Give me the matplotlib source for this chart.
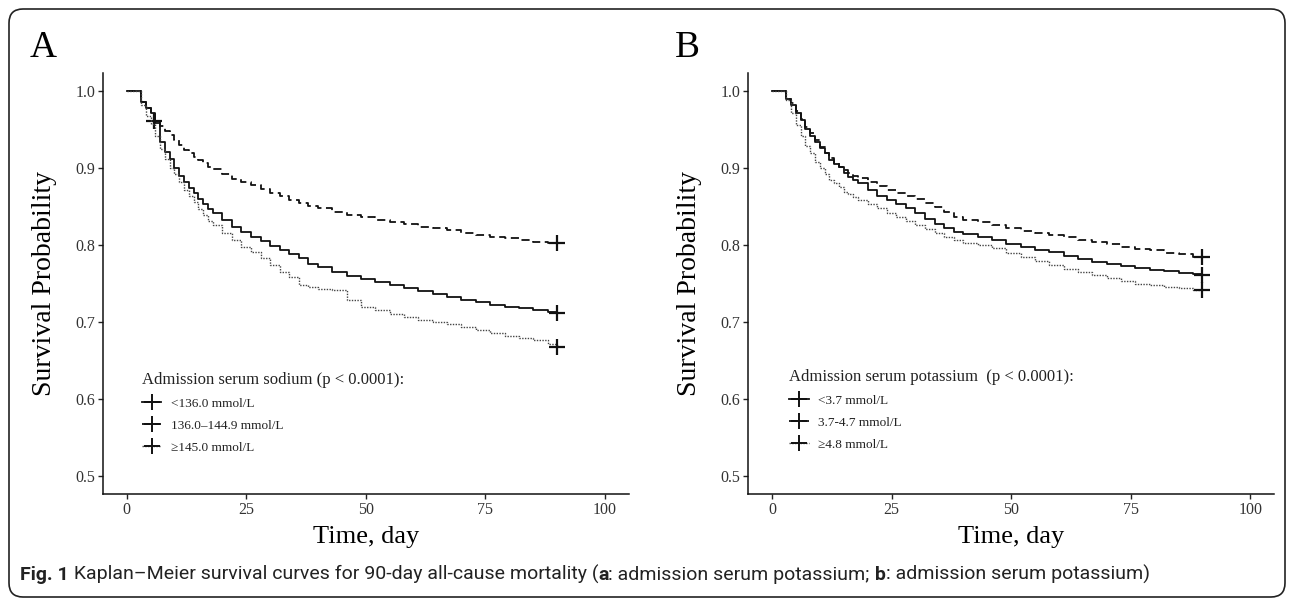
import matplotlib
matplotlib.use("Agg")
import matplotlib.pyplot as plt
from matplotlib.lines import Line2D
from matplotlib.patches import FancyBboxPatch
from matplotlib.transforms import IdentityTransform
from matplotlib.font_manager import FontProperties

# ---------------- data ----------------
days = [0, 3, 4, 5, 6, 7, 8, 9, 10, 11, 12, 13, 14, 15, 16, 17, 18, 20, 22, 24,
        26, 28, 30, 32, 34, 36, 38, 40, 43, 46, 49, 52, 55, 58, 61, 64, 67, 70,
        73, 76, 79, 82, 85, 88, 90]

# Panel A: admission serum sodium
na_low = [1.0, 0.986, 0.978, 0.971, 0.958, 0.934, 0.921, 0.912, 0.900, 0.890,
          0.882, 0.874, 0.867, 0.860, 0.853, 0.847, 0.841, 0.832, 0.824, 0.817,
          0.811, 0.805, 0.799, 0.794, 0.788, 0.783, 0.775, 0.771, 0.765, 0.760,
          0.756, 0.752, 0.748, 0.744, 0.740, 0.736, 0.732, 0.729, 0.726, 0.722,
          0.720, 0.718, 0.715, 0.713, 0.712]
na_mid = [1.0, 0.986, 0.978, 0.970, 0.960, 0.955, 0.948, 0.943, 0.937, 0.930,
          0.924, 0.920, 0.915, 0.910, 0.906, 0.902, 0.899, 0.892, 0.886, 0.882,
          0.878, 0.873, 0.868, 0.864, 0.859, 0.855, 0.851, 0.848, 0.843, 0.839,
          0.836, 0.833, 0.830, 0.827, 0.824, 0.822, 0.819, 0.816, 0.813, 0.811,
          0.809, 0.807, 0.804, 0.803, 0.802]
na_high = [1.0, 0.982, 0.968, 0.957, 0.942, 0.925, 0.912, 0.900, 0.892, 0.882,
           0.871, 0.864, 0.856, 0.847, 0.839, 0.831, 0.826, 0.815, 0.806, 0.798,
           0.791, 0.783, 0.774, 0.765, 0.759, 0.748, 0.745, 0.743, 0.741, 0.728,
           0.720, 0.716, 0.710, 0.706, 0.703, 0.700, 0.697, 0.694, 0.690, 0.686,
           0.682, 0.679, 0.676, 0.672, 0.668]

# Panel B: admission serum potassium
k_low = [1.0, 0.990, 0.982, 0.972, 0.962, 0.951, 0.942, 0.934, 0.926, 0.919,
         0.911, 0.905, 0.901, 0.894, 0.889, 0.885, 0.881, 0.872, 0.864, 0.858,
         0.853, 0.848, 0.842, 0.834, 0.827, 0.822, 0.817, 0.814, 0.810, 0.806,
         0.801, 0.797, 0.794, 0.791, 0.786, 0.782, 0.778, 0.775, 0.773, 0.770,
         0.768, 0.766, 0.764, 0.762, 0.761]
k_mid = [1.0, 0.990, 0.984, 0.974, 0.964, 0.953, 0.945, 0.937, 0.928, 0.920,
         0.913, 0.907, 0.902, 0.897, 0.893, 0.890, 0.887, 0.882, 0.877, 0.872,
         0.868, 0.864, 0.860, 0.855, 0.850, 0.843, 0.836, 0.833, 0.830, 0.826,
         0.822, 0.818, 0.816, 0.813, 0.810, 0.807, 0.804, 0.801, 0.798, 0.795,
         0.793, 0.790, 0.788, 0.785, 0.784]
k_high = [1.0, 0.988, 0.972, 0.956, 0.942, 0.929, 0.919, 0.908, 0.900, 0.892,
          0.885, 0.880, 0.875, 0.869, 0.866, 0.862, 0.858, 0.853, 0.848, 0.842,
          0.837, 0.831, 0.826, 0.821, 0.816, 0.811, 0.806, 0.802, 0.800, 0.796,
          0.790, 0.784, 0.779, 0.774, 0.769, 0.765, 0.761, 0.757, 0.753, 0.750,
          0.748, 0.746, 0.744, 0.742, 0.741]

# extra censoring mark (time, survival) on the 136.0-144.9 curve
cens_na_mid_extra = [(5.7, 0.961)]

labels_a = ["<136.0 mmol/L", "136.0\u2013144.9 mmol/L", "\u2265145.0 mmol/L"]
labels_b = ["<3.7 mmol/L", "3.7-4.7 mmol/L", "\u22654.8 mmol/L"]
title_a = "Admission serum sodium (p < 0.0001):"
title_b = "Admission serum potassium  (p < 0.0001):"

x_ticks = [0, 25, 50, 75, 100]
y_ticks = [0.5, 0.6, 0.7, 0.8, 0.9, 1.0]

# ---------------- styling ----------------
W, H = 1292, 599
SERIF = ["Liberation Serif", "DejaVu Serif"]
plt.rcParams["font.family"] = SERIF

styles = [
    dict(color="#111111", lw=1.3, ls="-"),
    dict(color="#111111", lw=1.3, ls=(0, (4.5, 2.5))),
    dict(color="#444444", lw=1.0, ls=(0, (1, 1))),
]

fig = plt.figure(figsize=(W / 100, H / 100), dpi=100)

ax_w = 526.2 / W
ax_h = 421.6 / H
ax_b = 104.7 / H
axA = fig.add_axes([102.7 / W, ax_b, ax_w, ax_h])
axB = fig.add_axes([748.0 / W, ax_b, ax_w, ax_h])


def draw_panel(ax, series, labels, title, extra_cens, leg_xy):
    for vals, st, extra in zip(series, styles, extra_cens):
        ax.step(days, vals, where="post", color=st["color"], lw=st["lw"],
                linestyle=st["ls"])
        ct = [days[-1]] + [c[0] for c in extra]
        cv = [vals[-1]] + [c[1] for c in extra]
        ax.plot(ct, cv, linestyle="none", marker="+", ms=11, mew=1.6,
                color="#111111")
    ax.set_xlim(-5, 105)
    ax.set_ylim(0.476, 1.024)
    ax.set_xticks(x_ticks)
    ax.set_yticks(y_ticks)
    ax.set_xticklabels([str(v) for v in x_ticks])
    ax.set_yticklabels([f"{v:.1f}" for v in y_ticks])
    for s in ["top", "right"]:
        ax.spines[s].set_visible(False)
    for s in ["left", "bottom"]:
        ax.spines[s].set_linewidth(1.1)
        ax.spines[s].set_color("#111111")
    ax.tick_params(direction="out", length=3.5, width=1.0, color="#222222",
                   labelsize=11.5, labelcolor="#333333", pad=2)
    ax.set_xlabel("Time, day", fontsize=19, labelpad=6)
    ax.set_ylabel("Survival Probability", fontsize=20, labelpad=13)

    handles = [Line2D([0], [0], color=st["color"], lw=st["lw"],
                      linestyle=st["ls"], marker="+", ms=11, mew=1.4,
                      markeredgecolor="#111111")
               for st in styles]
    leg = ax.legend(handles, labels, title=title, loc="upper left",
                    bbox_to_anchor=leg_xy, frameon=False, borderpad=0,
                    borderaxespad=0, handlelength=1.5, handletextpad=0.7,
                    labelspacing=0.74, numpoints=1,
                    prop=FontProperties(family=SERIF, size=9.5),
                    title_fontproperties=FontProperties(family=SERIF, size=12))
    leg._legend_box.align = "left"
    for t in leg.get_texts():
        t.set_color("#222222")
    leg.get_title().set_color("#222222")


draw_panel(axA, [na_low, na_mid, na_high], labels_a, title_a,
           [[], cens_na_mid_extra, []], (0.074, 0.29))
draw_panel(axB, [k_low, k_mid, k_high], labels_b, title_b,
           [[], [], []], (0.078, 0.297))

# panel letters
fig.text(30 / W, 1 - 57 / H, "A", fontsize=27, family=SERIF, va="baseline")
fig.text(675 / W, 1 - 57 / H, "B", fontsize=27, family=SERIF, va="baseline")

# rounded frame
frame = FancyBboxPatch((9, 2), 1276, 588,
                       boxstyle="round,pad=0,rounding_size=14",
                       transform=IdentityTransform(), fill=False,
                       lw=1.2, ec="#222222")
fig.patches.append(frame)

# caption with bold parts
renderer = fig.canvas.get_renderer()
pieces = [("Fig. 1", "bold"),
          (" Kaplan\u2013Meier survival curves for 90-day all-cause mortality (", "normal"),
          ("a", "bold"),
          (": admission serum potassium; ", "normal"),
          ("b", "bold"),
          (": admission serum potassium)", "normal")]
x = 20 / W
y = 1 - 580 / H
CAP_FONT = ["Roboto", "Liberation Sans", "DejaVu Sans"]
for txt, wgt in pieces:
    t = fig.text(x, y, txt, fontsize=14, family=CAP_FONT,
                 weight=wgt, va="baseline", color="#222222")
    x += t.get_window_extent(renderer).width / W

fig.savefig("out.png", dpi=100)
